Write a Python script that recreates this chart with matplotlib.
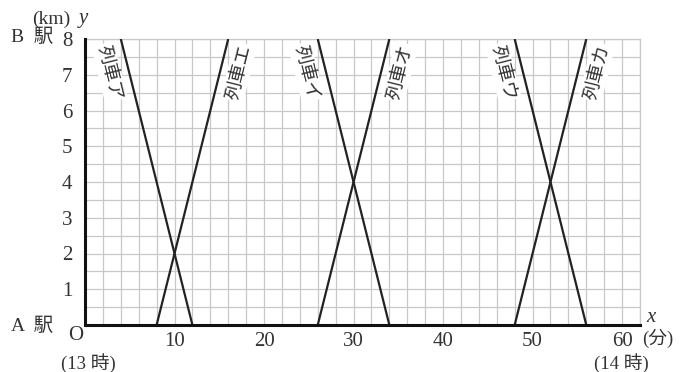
import numpy as np
import matplotlib
matplotlib.use("Agg")
import matplotlib.pyplot as plt

# ---- data ----
train_names = ["列車ア", "列車エ", "列車イ", "列車オ", "列車ウ", "列車カ"]
start_x = [4, 8, 26, 26, 48, 48]
start_y = [8, 0, 8, 0, 8, 0]
end_x = [12, 16, 34, 34, 56, 56]
end_y = [0, 8, 0, 8, 0, 8]
x_ticks = [10, 20, 30, 40, 50, 60]
y_ticks = [1, 2, 3, 4, 5, 6, 7, 8]

W, H = 692, 372
SERIF = ["Liberation Serif", "Noto Sans CJK JP"]
CJK = ["Noto Sans CJK JP", "DejaVu Sans"]
TXT = "#333333"

fig = plt.figure(figsize=(W / 100, H / 100), dpi=100)
ax = fig.add_axes([85 / W, (H - 325) / H, (640 - 85) / W, (325 - 39) / H])
ax.set_xlim(0, 62)
ax.set_ylim(0, 8)

# grid
ax.set_xticks(x_ticks)
ax.set_xticks(np.arange(0, 63, 2), minor=True)
ax.set_yticks(y_ticks)
ax.set_yticks(np.arange(0, 8.01, 0.5), minor=True)
ax.grid(True, which="both", color="#c8c8c8", lw=0.9, zorder=0)
ax.set_axisbelow(True)
ax.tick_params(which="both", length=0)
ax.tick_params(axis="x", pad=5)
ax.tick_params(axis="y", pad=9)
for lab in ax.get_xticklabels() + ax.get_yticklabels():
    lab.set_fontfamily(SERIF)
    lab.set_fontsize(15)
    lab.set_color(TXT)

for s in ["top", "right"]:
    ax.spines[s].set_color("#c8c8c8")
    ax.spines[s].set_linewidth(0.9)
for s in ["left", "bottom"]:
    ax.spines[s].set_color("#111111")
    ax.spines[s].set_linewidth(2.2)
    ax.spines[s].set_zorder(5)

# train lines and labels
label_y = 7.07
for name, x0, y0, x1, y1 in zip(train_names, start_x, start_y, end_x, end_y):
    ax.plot([x0, x1], [y0, y1], color="#222222", lw=1.6, zorder=3,
            solid_capstyle="butt")
    slope = (y1 - y0) / (x1 - x0)
    xl = x0 + (label_y - y0) / slope
    ang = np.degrees(np.arctan(slope))
    off = -2.2 if slope < 0 else 2.1
    ax.text(xl + off, label_y, name, rotation=ang, transform_rotates_text=True,
            rotation_mode="anchor", ha="center", va="center",
            fontfamily=CJK, fontsize=13.5, color=TXT, zorder=4,
            bbox=dict(facecolor="white", edgecolor="none", pad=0.8))

# annotations (pixel positions from top-left)
def ftext(px, py, s, **kw):
    fig.text(px / W, 1 - py / H, s, ha="center", va="center", color=TXT, **kw)

ftext(51, 19, "(km)", fontfamily=SERIF, fontsize=14)
ftext(83, 18, "y", fontfamily=SERIF, fontsize=15, fontstyle="italic")
ftext(32, 37, "B  駅", fontfamily=SERIF, fontsize=14)
ftext(32, 326, "A  駅", fontfamily=SERIF, fontsize=14)
ftext(76, 335, "O", fontfamily=SERIF, fontsize=15)
ftext(88, 363, "(13 時)", fontfamily=SERIF, fontsize=13.5)
ftext(651, 318, "x", fontfamily=SERIF, fontsize=15, fontstyle="italic")
ftext(658, 338, "(分)", fontfamily=SERIF, fontsize=13.5)
ftext(621, 363, "(14 時)", fontfamily=SERIF, fontsize=13.5)

fig.savefig("out.png", dpi=100)
